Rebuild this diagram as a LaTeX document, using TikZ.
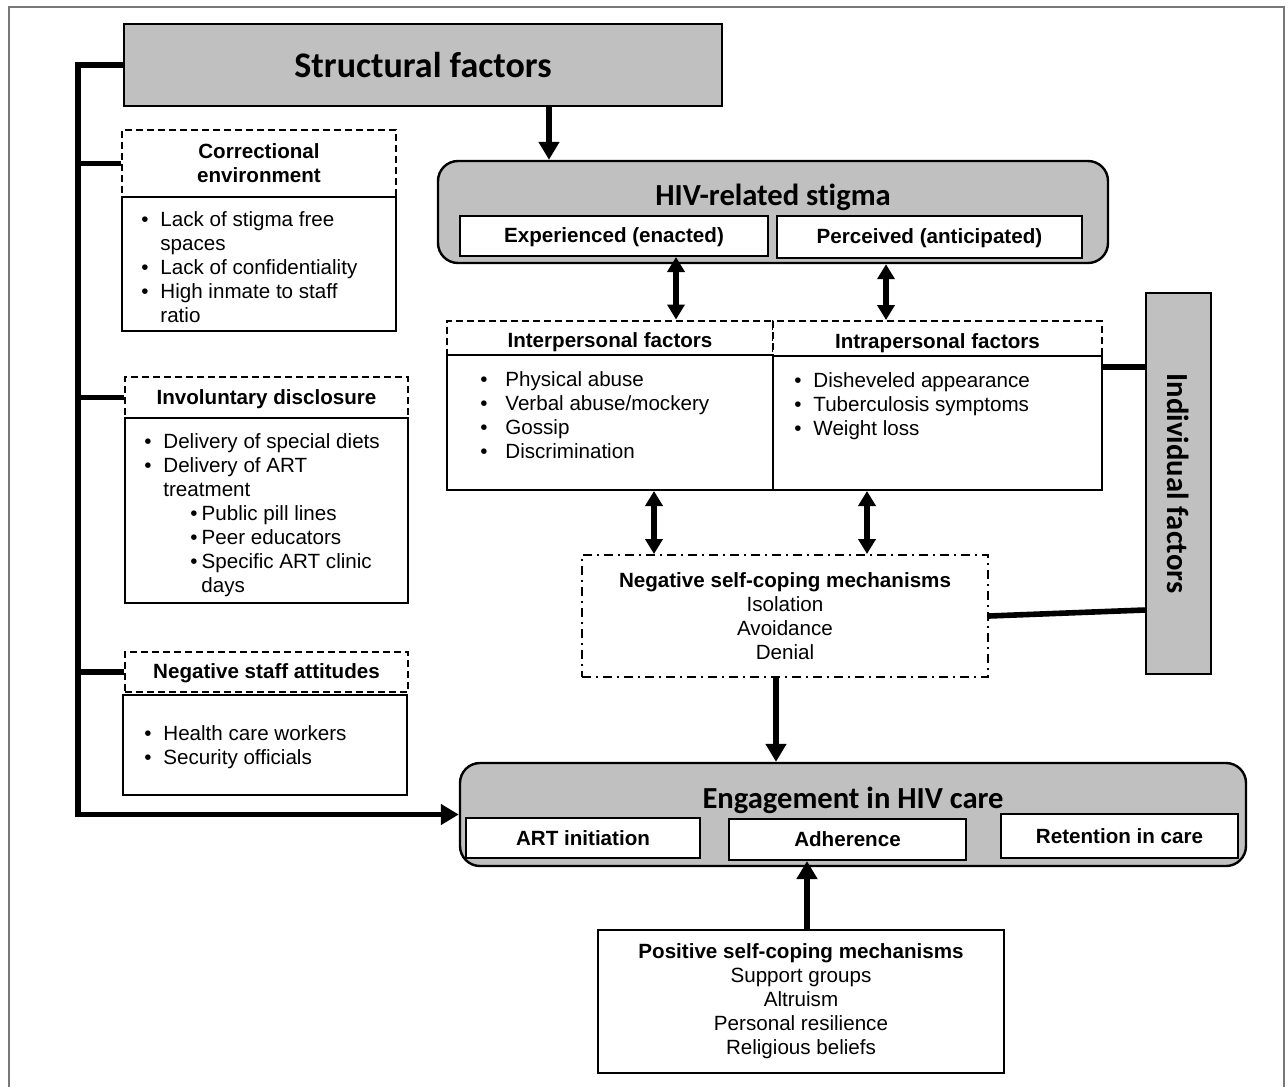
\documentclass[tikz,border=0pt]{standalone}
\usepackage{fontspec}
\setmainfont{Liberation Sans}
\newfontfamily\titlefont[Ligatures=NoCommon]{Carlito}
\usepackage{tikz}
\usetikzlibrary{arrows.meta}
\definecolor{boxgray}{RGB}{192,192,192}
\definecolor{framegray}{RGB}{120,120,120}

\begin{document}
\begin{tikzpicture}[x=0.5pt,y=-0.5pt, every node/.style={font=\fontsize{10.3}{12}\selectfont, inner sep=0pt}]
  \tikzstyle{graybox}=[draw, line width=1.2pt, fill=boxgray, align=center]
  \tikzstyle{headbox}=[draw, line width=1pt, dash pattern=on 3.5pt off 2pt, fill=white, align=center, font=\fontsize{10.3}{12}\selectfont\bfseries]
  \tikzstyle{bodybox}=[draw, line width=1pt, fill=white]
  \tikzstyle{subbox}=[draw, line width=1pt, fill=white, font=\fontsize{10.3}{12}\selectfont\bfseries]
  \tikzstyle{titletext}=[font=\titlefont\bfseries\fontsize{15.3}{18}\selectfont]
  \tikzstyle{listtext}=[anchor=base west]
  \tikzstyle{bigline}=[line width=2.8pt]
  \tikzstyle{bigarrow}=[line width=2.8pt, -{Triangle[width=10pt,length=9pt]}]
  \tikzstyle{dblarrow}=[line width=2.6pt, {Triangle[width=8.5pt,length=7.5pt]}-{Triangle[width=8.5pt,length=7.5pt]}]
  \useasboundingbox (0,0) rectangle (1288,1087);
  \draw[framegray, line width=1pt] (9,1087) -- (9,7) -- (1284,7) -- (1284,1087);

  % structural side
  \node[graybox, minimum width=299pt, minimum height=41pt, font=\titlefont\bfseries\fontsize{18}{21}\selectfont] (struct) at (423,65) {Structural factors};
  \node[headbox, minimum width=137pt, minimum height=33.5pt] (corr-head) at (259,163.5) {Correctional\\environment};
  \node[bodybox, minimum width=137pt, minimum height=67pt] (corr-body) at (259,264) {};
  \node[listtext] (corr-list) at (141,226) {\begin{tabular}[t]{@{}p{9.5pt}@{}l@{}}
    \textbullet & Lack of stigma free\\
    & spaces\\
    \textbullet & Lack of confidentiality\\
    \textbullet & High inmate to staff\\
    & ratio
  \end{tabular}};
  \node[headbox, minimum width=141.5pt, minimum height=20.5pt, text height=9pt, text depth=2.2pt] (invol-head) at (266.5,397.5) {Involuntary disclosure};
  \node[bodybox, minimum width=141.5pt, minimum height=92.5pt] (invol-body) at (266.5,510.5) {};
  \node[listtext] (invol-list) at (144,448) {\begin{tabular}[t]{@{}p{9.5pt}@{}l@{}}
    \textbullet & Delivery of special diets\\
    \textbullet & Delivery of ART\\
    & treatment\\
    & \hspace{13.5pt}\textbullet\hspace{2pt}Public pill lines\\
    & \hspace{13.5pt}\textbullet\hspace{2pt}Peer educators\\
    & \hspace{13.5pt}\textbullet\hspace{2pt}Specific ART clinic\\
    & \hspace{19pt}days
  \end{tabular}};
  \node[headbox, minimum width=141.5pt, minimum height=20pt, text height=9pt, text depth=2.2pt] (staff-head) at (266.5,672) {Negative staff attitudes};
  \node[bodybox, minimum width=142pt, minimum height=50pt] (staff-body) at (265,745) {};
  \node[listtext] (staff-list) at (144,740) {\begin{tabular}[t]{@{}p{9.5pt}@{}l@{}}
    \textbullet & Health care workers\\
    \textbullet & Security officials
  \end{tabular}};

  % stigma
  \node[graybox, rounded corners=10pt, minimum width=335pt, minimum height=51pt] (stigma) at (773,212) {};
  \node[titletext] (stigma-title) at (773,197) {HIV-related stigma};
  \node[subbox, minimum width=154pt, minimum height=20pt, text height=9pt, text depth=2.2pt] (exper) at (614,236) {Experienced (enacted)};
  \node[subbox, minimum width=152.5pt, minimum height=21pt, text height=9pt, text depth=2.2pt] (perc) at (929.5,237) {Perceived (anticipated)};

  % interpersonal / intrapersonal
  \node[headbox, minimum width=163pt, minimum height=17.5pt, text height=12pt, text depth=2.2pt] (inter-head) at (610,338) {Interpersonal factors};
  \node[bodybox, minimum width=163pt, minimum height=67.5pt] (inter-body) at (610,422.5) {};
  \node[listtext] (inter-list) at (480,386) {\begin{tabular}[t]{@{}p{12.5pt}@{}l@{}}
    \textbullet & Physical abuse\\
    \textbullet & Verbal abuse/mockery\\
    \textbullet & Gossip\\
    \textbullet & Discrimination
  \end{tabular}};
  \node[headbox, minimum width=164.5pt, minimum height=17.5pt, text height=12pt, text depth=2.2pt] (intra-head) at (937.5,338.5) {Intrapersonal factors};
  \node[bodybox, minimum width=164.5pt, minimum height=67pt] (intra-body) at (937.5,423) {};
  \node[listtext] (intra-list) at (794,387) {\begin{tabular}[t]{@{}p{9.5pt}@{}l@{}}
    \textbullet & Disheveled appearance\\
    \textbullet & Tuberculosis symptoms\\
    \textbullet & Weight loss
  \end{tabular}};

  \node[graybox, minimum width=32.5pt, minimum height=190.5pt] (indiv) at (1178.5,483.5) {};
  \node[titletext, rotate=-90] (indiv-title) at (1178.5,483.5) {Individual factors};

  \node[draw, line width=1pt, dash pattern=on 4.5pt off 2.5pt on 1pt off 2.5pt, minimum width=203pt, minimum height=61pt, align=center] (neg) at (785,616)
    {\textbf{Negative self-coping mechanisms}\\Isolation\\Avoidance\\Denial};

  % engagement
  \node[graybox, rounded corners=10pt, minimum width=393pt, minimum height=51.5pt] (engage) at (853,814.5) {};
  \node[titletext] (engage-title) at (853,800) {Engagement in HIV care};
  \node[subbox, minimum width=117pt, minimum height=20pt] (art) at (583,838) {ART initiation};
  \node[subbox, minimum width=118.5pt, minimum height=20.5pt, text height=9pt, text depth=2.2pt] (adh) at (847.5,839.5) {Adherence};
  \node[subbox, minimum width=118.5pt, minimum height=22pt] (ret) at (1119.5,836) {Retention in care};

  \node[draw, line width=1pt, minimum width=203pt, minimum height=71.5pt, align=center] (pos) at (801,1001.5)
    {\textbf{Positive self-coping mechanisms}\\Support groups\\Altruism\\Personal resilience\\Religious beliefs};

  % connectors
  \coordinate (brk) at (78,0);
  \coordinate (ax1) at (549,0);
  \coordinate (ax2) at (676,0);
  \coordinate (ax3) at (886,0);
  \coordinate (ax4) at (654,0);
  \coordinate (ax5) at (867,0);
  \coordinate (ax6) at (776,0);
  \coordinate (ax7) at (807,0);
  \coordinate (ay1) at (0,367);
  \coordinate (ay2) at (0,610);
  \draw[bigarrow] (struct.west) -| (brk |- engage.west) -- (engage.west);
  \draw[bigline] (brk |- corr-head.west) -- (corr-head.west);
  \draw[bigline] (brk |- invol-head.west) -- (invol-head.west);
  \draw[bigline] (brk |- staff-head.west) -- (staff-head.west);
  \draw[bigarrow] (struct.south -| ax1) -- (stigma.north -| ax1);
  \draw[dblarrow] (exper.south -| ax2) -- (inter-head.north -| ax2);
  \draw[dblarrow] (stigma.south -| ax3) -- (intra-head.north -| ax3);
  \draw[dblarrow] (inter-body.south -| ax4) -- (neg.north -| ax4);
  \draw[dblarrow] (intra-body.south -| ax5) -- (neg.north -| ax5);
  \draw[bigline] (intra-body.east |- ay1) -- (indiv.west |- ay1);
  \draw[bigline] (neg.east) -- (indiv.west |- ay2);
  \draw[bigarrow] (neg.south -| ax6) -- (engage.north -| ax6);
  \draw[bigarrow] (pos.north -| ax7) -- (adh.south -| ax7);
\end{tikzpicture}
\end{document}
